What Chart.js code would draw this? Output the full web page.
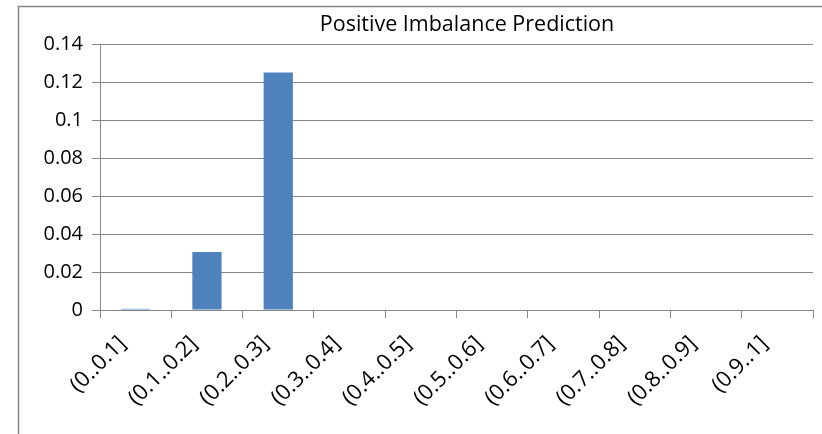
<!DOCTYPE html>
<html>
<head>
<meta charset="utf-8">
<script src="https://cdn.jsdelivr.net/npm/chart.js@4/dist/chart.umd.min.js"></script>
<style>
  html, body { margin: 0; padding: 0; background: #fff; overflow: hidden; }
  #wrap { width: 822px; height: 434px; position: relative; }
</style>
</head>
<body>
<div id="wrap"><canvas id="c" width="822" height="434"></canvas></div>
<script>
// Share of predictions per probability bin
const chartTitle = 'Positive Imbalance Prediction';
const categories = ['(0..0.1]', '(0.1..0.2]', '(0.2..0.3]', '(0.3..0.4]', '(0.4..0.5]',
                    '(0.5..0.6]', '(0.6..0.7]', '(0.7..0.8]', '(0.8..0.9]', '(0.9..1]'];
const shares = [0.0006, 0.0305, 0.125, 0, 0, 0, 0, 0, 0, 0];
const yTickValues = [0, 0.02, 0.04, 0.06, 0.08, 0.1, 0.12, 0.14];
const yTickLabels = ['0', '0.02', '0.04', '0.06', '0.08', '0.1', '0.12', '0.14'];

const FONT = '"Open Sans", "DejaVu Sans", sans-serif';
const GRID = '#868686';

// Outer frame of the chart and the centred title
const frameAndTitle = {
  id: 'frameAndTitle',
  beforeDraw(chart) {
    const ctx = chart.ctx;
    ctx.save();
    ctx.strokeStyle = GRID;
    ctx.lineWidth = 1.5;
    ctx.beginPath();
    ctx.moveTo(18.5, 434);
    ctx.lineTo(18.5, 6.5);
    ctx.lineTo(822, 6.5);
    ctx.stroke();
    ctx.restore();
  },
  afterDraw(chart) {
    const ctx = chart.ctx;
    ctx.save();
    ctx.fillStyle = '#000';
    ctx.font = '21.5px ' + FONT;
    ctx.textAlign = 'center';
    ctx.textBaseline = 'middle';
    ctx.fillText(chartTitle, 467, 25);
    ctx.restore();
  }
};

new Chart(document.getElementById('c'), {
  type: 'bar',
  data: {
    labels: categories,
    datasets: [{
      data: shares,
      backgroundColor: '#4F81BD',
      borderWidth: 0,
      categoryPercentage: 1,
      barPercentage: 0.41
    }]
  },
  options: {
    responsive: false,
    devicePixelRatio: 1,
    animation: false,
    layout: { padding: { left: 18, top: 44, right: 9, bottom: 0 } },
    plugins: { legend: { display: false }, title: { display: false }, tooltip: { enabled: false } },
    scales: {
      x: {
        offset: true,
        grid: { display: true, drawOnChartArea: false, drawTicks: true, tickLength: 8, color: GRID, offset: true },
        border: { display: true, color: GRID, width: 1 },
        ticks: {
          color: '#000',
          font: { family: FONT, size: 22 },
          maxRotation: 45, minRotation: 45, autoSkip: false,
          padding: 13, labelOffset: -13
        },
        afterFit(scale) { scale.height = 124; }
      },
      y: {
        min: 0, max: 0.14,
        afterBuildTicks(scale) { scale.ticks = yTickValues.map(v => ({ value: v })); },
        grid: { color: GRID, tickLength: 8, drawTicks: true },
        border: { display: true, color: GRID, width: 1 },
        ticks: {
          color: '#000',
          font: { family: FONT, size: 20 },
          padding: 9,
          callback(value) {
            const i = yTickValues.findIndex(v => Math.abs(v - value) < 1e-9);
            return i >= 0 ? yTickLabels[i] : '';
          }
        },
        afterFit(scale) { scale.width = 82; }
      }
    }
  },
  plugins: [frameAndTitle]
});
</script>
</body>
</html>
